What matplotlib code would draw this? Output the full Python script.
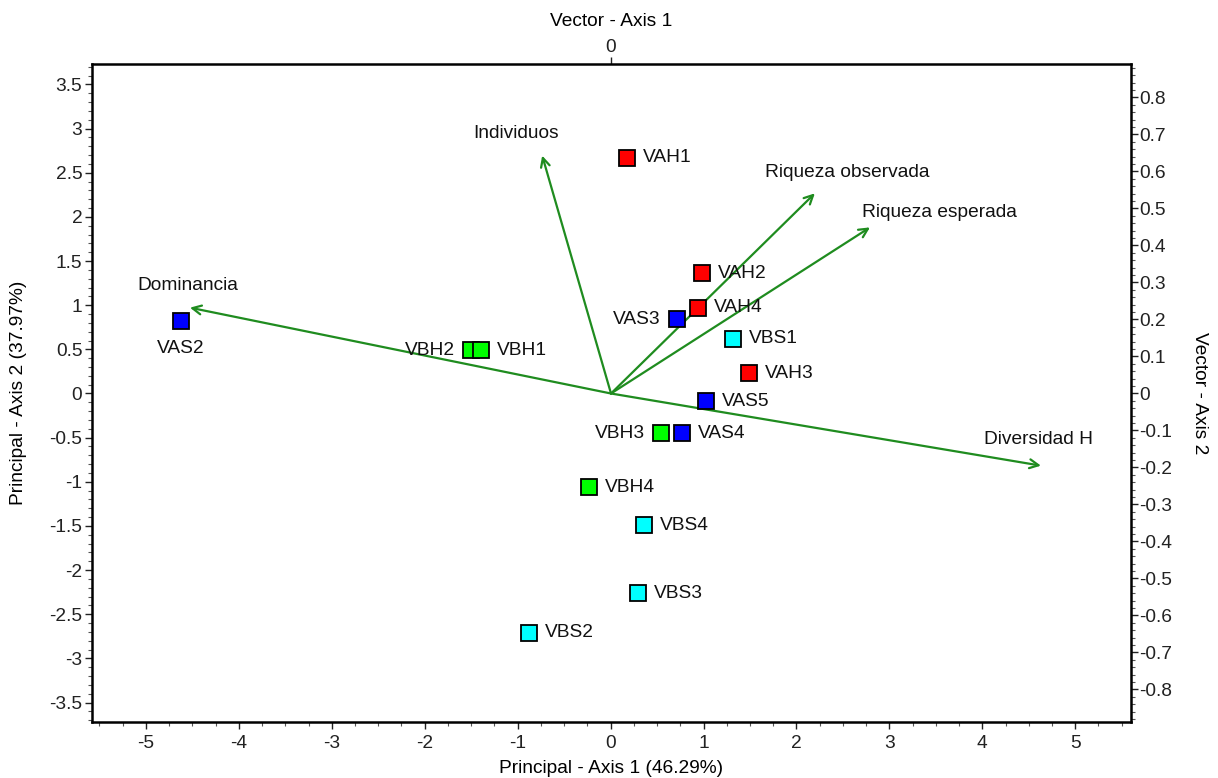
import matplotlib
matplotlib.use('Agg')
import numpy as np
import matplotlib.pyplot as plt
from matplotlib.ticker import FixedLocator, FuncFormatter

plt.rcParams['font.family'] = ['Liberation Sans', 'DejaVu Sans']
plt.rcParams['axes.unicode_minus'] = False

# ---- data: sample scores (principal axes) ----
samples = ['VAH1', 'VAH2', 'VAH4', 'VAS3', 'VBS1', 'VAH3', 'VAS5', 'VBH3',
           'VAS4', 'VBH4', 'VBS4', 'VBS3', 'VBS2', 'VAS2', 'VBH2', 'VBH1']
pc1 = [0.18, 0.98, 0.94, 0.71, 1.32, 1.49, 1.03, 0.54,
       0.77, -0.23, 0.36, 0.29, -0.88, -4.62, -1.50, -1.39]
pc2 = [2.67, 1.36, 0.97, 0.84, 0.62, 0.23, -0.09, -0.45,
       -0.45, -1.06, -1.49, -2.26, -2.71, 0.82, 0.49, 0.49]
groups = ['VAH', 'VAH', 'VAH', 'VAS', 'VBS', 'VAH', 'VAS', 'VBH',
          'VAS', 'VBH', 'VBS', 'VBS', 'VBS', 'VAS', 'VBH', 'VBH']
label_side = ['r', 'r', 'r', 'l', 'r', 'r', 'r', 'l',
              'r', 'r', 'r', 'r', 'r', 'b', 'l', 'r']

# ---- data: variable vectors (vector axes) ----
variables = ['Individuos', 'Riqueza observada', 'Riqueza esperada', 'Dominancia', 'Diversidad H']
vec1 = [-0.186, 0.551, 0.700, -1.138, 1.162]
vec2 = [0.643, 0.541, 0.449, 0.232, -0.195]

group_colors = {'VAH': '#ff0000', 'VAS': '#0000ff', 'VBH': '#00ff00', 'VBS': '#00ffff'}
arrow_color = '#1f8c1f'

FS = 13.8
W, H = 1218, 778
fig = plt.figure(figsize=(W / 100, H / 100), dpi=100)
rect = [92 / W, 1 - 722 / H, (1131 - 92) / W, (722 - 64) / H]

# vector axes (underneath)
axv = fig.add_axes(rect)
axv.set_xlim(-(611 - 92) / 370, (1131 - 611) / 370)
axv.set_ylim(-(722 - 393.5) / 370, (393.5 - 64) / 370)
for s in axv.spines.values():
    s.set_visible(False)
axv.xaxis.tick_top()
axv.yaxis.tick_right()
axv.xaxis.set_label_position('top')
axv.yaxis.set_label_position('right')
axv.xaxis.set_major_locator(FixedLocator([0]))
axv.yaxis.set_major_locator(FixedLocator(np.round(np.arange(-0.8, 0.81, 0.1), 1)))
axv.yaxis.set_minor_locator(FixedLocator(np.round(np.arange(-0.88, 0.89, 0.02), 2)))


def fmt(v, pos=None):
    r = round(v, 2)
    if r == 0:
        return '0'
    return f'{r:g}'


axv.xaxis.set_major_formatter(FuncFormatter(fmt))
axv.yaxis.set_major_formatter(FuncFormatter(fmt))
axv.tick_params(axis='both', which='major', direction='out', length=5, width=1.0,
                labelsize=FS, pad=1, colors='#222222')
axv.tick_params(axis='y', which='minor', direction='out', length=3, width=0.8, colors='#555555')
axv.set_xlabel('Vector - Axis 1', fontsize=FS, labelpad=9)
axv.set_ylabel('Vector - Axis 2', fontsize=FS, rotation=-90, labelpad=26)

# arrows
label_offsets = [(-26, 22, 'center'), (-50, 21, 'left'), (-8, 15, 'left'),
                 (-2, 22, 'center'), (-57, 26, 'left')]
for name, vx, vy, (ox, oy, ha) in zip(variables, vec1, vec2, label_offsets):
    axv.annotate('', xy=(vx, vy), xytext=(0, 0),
                 arrowprops=dict(arrowstyle='->', color=arrow_color, lw=1.6,
                                 mutation_scale=16, shrinkA=0, shrinkB=0))
    axv.annotate(name, xy=(vx, vy), xytext=(ox, oy), textcoords='offset pixels',
                 ha=ha, va='center', fontsize=FS, color='#111111')

# main axes (on top, transparent)
ax = fig.add_axes(rect)
ax.patch.set_alpha(0)
ax.set_xlim(-5.58, 5.60)
ax.set_ylim(-(722 - 393.5) / 88.3, (393.5 - 64) / 88.3)
for s in ax.spines.values():
    s.set_linewidth(1.8)
    s.set_color('black')
ax.xaxis.set_major_locator(FixedLocator(np.arange(-5, 5.1, 1)))
ax.xaxis.set_minor_locator(FixedLocator(np.arange(-5.5, 5.51, 0.25)))
ax.yaxis.set_major_locator(FixedLocator(np.round(np.arange(-3.5, 3.51, 0.5), 1)))
ax.yaxis.set_minor_locator(FixedLocator(np.round(np.arange(-3.7, 3.71, 0.1), 1)))
ax.xaxis.set_major_formatter(FuncFormatter(fmt))
ax.yaxis.set_major_formatter(FuncFormatter(fmt))
ax.tick_params(axis='both', which='major', direction='out', length=5, width=1.0,
               labelsize=FS, pad=2, colors='#222222')
ax.tick_params(axis='x', which='major', pad=4)
ax.tick_params(axis='both', which='minor', direction='out', length=3, width=0.8, colors='#555555')
ax.tick_params(top=False, right=False, which='both')
ax.set_xlabel('Principal - Axis 1 (46.29%)', fontsize=FS, labelpad=6)
ax.set_ylabel('Principal - Axis 2 (37.97%)', fontsize=FS, labelpad=16)

for name, x, y, g, side in zip(samples, pc1, pc2, groups, label_side):
    ax.plot(x, y, marker='s', markersize=11, markerfacecolor=group_colors[g],
            markeredgecolor='black', markeredgewidth=1.3, linestyle='none', zorder=3)
    if side == 'r':
        off, ha, va = (16, 0), 'left', 'center'
    elif side == 'l':
        off, ha, va = (-16, 0), 'right', 'center'
    else:
        off, ha, va = (0, -27), 'center', 'center'
    ax.annotate(name, xy=(x, y), xytext=off, textcoords='offset pixels',
                ha=ha, va=va, fontsize=FS, color='#111111', zorder=4)

fig.savefig('out.png', dpi=100)
